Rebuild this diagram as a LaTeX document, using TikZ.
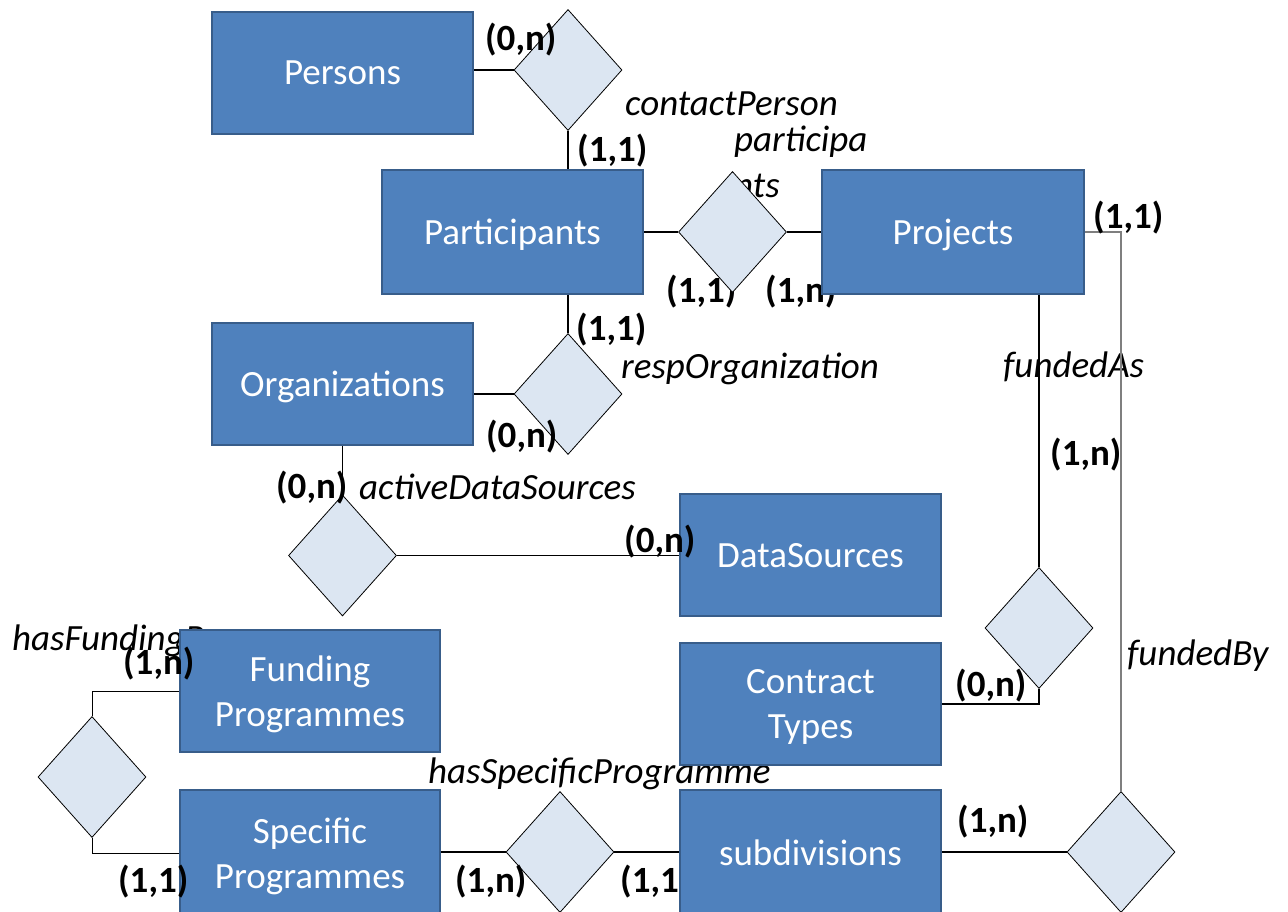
\documentclass[tikz,border=0pt]{standalone}
\usepackage{fontspec}
\setmainfont{Carlito}
\usetikzlibrary{shapes.geometric}
\definecolor{entfill}{HTML}{4F81BD}
\definecolor{entborder}{HTML}{385D8A}
\definecolor{relfill}{HTML}{DCE6F2}
\definecolor{greyline}{HTML}{7F7F7F}
\pgfdeclarelayer{bg}
\pgfsetlayers{bg,main}
\begin{document}
\begin{tikzpicture}[x=1pt,y=-1pt,
  ent/.style={draw=entborder, fill=entfill, line width=1.5pt, text=white,
    font=\fontsize{37}{45}\selectfont, align=center, inner sep=0pt, text depth=0pt},
  rel/.style={diamond, draw=black, fill=relfill, line width=0.8pt,
    minimum width=108pt, minimum height=121pt, inner sep=0pt},
  card/.style={font=\bfseries\fontsize{37}{44}\selectfont, inner sep=0pt, anchor=west},
  rname/.style={font=\itshape\fontsize{37}{46}\selectfont, inner sep=0pt, anchor=base west, align=left},
  conn/.style={line width=1.6pt, black},
  thinconn/.style={line width=0.9pt, black},
  greyconn/.style={line width=1.2pt, greyline},
]
\useasboundingbox (0,0) rectangle (1288,912);

% relationship names and hidden labels (behind)
\begin{pgfonlayer}{bg}
\node[rname] (lcp) at (625,116) {contactPerson};
\node[rname] (lpart) at (734,198) {participa\\nts};
\node[rname] (lresp) at (621,378) {respOrganization};
\node[rname] (lads) at (359,499) {activeDataSources};
\node[rname] (lfa) at (1003,377) {fundedAs};
\node[rname] (lfb) at (1127,665) {fundedBy};
\node[rname] (lhfp) at (12,650) {hasFundingProgramme};
\node[rname] (lhsp) at (428,783) {hasSpecificProgramme};
\node[card] (c5) at (666,292) {(1,1)};
\node[card] (c6) at (765,292) {(1,n)};
\node[card] (c17) at (620,882) {(1,1)};
\end{pgfonlayer}

% entities
\node[ent, minimum width=261pt, minimum height=122pt] (persons) at (342.5,73) {Persons};
\node[ent, minimum width=261pt, minimum height=124pt] (participants) at (512.5,232) {Participants};
\node[ent, minimum width=262pt, minimum height=124pt] (projects) at (953,232) {Projects};
\node[ent, minimum width=261pt, minimum height=122pt] (orgs) at (342.5,384) {Organizations};
\node[ent, minimum width=261pt, minimum height=122pt] (datasrc) at (810.5,555) {DataSources};
\node[ent, minimum width=260pt, minimum height=122pt] (fundprog) at (310,691) {Funding\\Programmes};
\node[ent, minimum width=261pt, minimum height=122pt] (contract) at (810.5,704) {Contract\\Types};
\node[ent, minimum width=260pt, minimum height=126pt] (specprog) at (310,853) {Specific\\Programmes};
\node[ent, minimum width=261pt, minimum height=126pt] (subdiv) at (810.5,853) {subdivisions};

% relationships
\node[rel] (cp) at (568,70) {};
\node[rel] (part) at (732.5,232) {};
\node[rel] (resp) at (568,394) {};
\node[rel] (ads) at (342.5,555.5) {};
\node[rel] (fa) at (1039,628) {};
\node[rel] (fb) at (1121,852) {};
\node[rel] (hfp) at (92,777) {};
\node[rel] (hsp) at (560,852) {};

% connectors
\draw[conn] (cp.west) -- (cp.west -| persons.east);
\draw[conn] (cp.south) -- (cp.south |- participants.north);
\draw[conn] (part.west) -- (part.west -| participants.east);
\draw[conn] (part.east) -- (part.east -| projects.west);
\draw[conn] (resp.north) -- (resp.north |- participants.south);
\draw[conn] (resp.west) -- (resp.west -| orgs.east);
\draw[conn] (ads.north) -- (ads.north |- orgs.south);
\draw[conn] (ads.east) -- (ads.east -| datasrc.west);
\draw[conn] (fa.north) -- (fa.north |- projects.south);
\draw[conn] (fa.south) |- (contract.east);
\draw[greyconn] (fb.north) |- (projects.east);
\draw[conn] (fb.west) -- (fb.west -| subdiv.east);
\draw[thinconn] (hfp.north) |- (fundprog.west);
\draw[thinconn] (hfp.south) |- (specprog.west);
\draw[conn] (hsp.west) -- (hsp.west -| specprog.east);
\draw[conn] (hsp.east) -- (hsp.east -| subdiv.west);

% cardinalities
\node[card] (c1) at (485,40) {(0,n)};
\node[card] (c2) at (577,151) {(1,1)};
\node[card] (c3) at (576,330) {(1,1)};
\node[card] (c4) at (486,437) {(0,n)};
\node[card] (c7) at (276,488) {(0,n)};
\node[card] (c8) at (624,542) {(0,n)};
\node[card] (c9) at (1093,218) {(1,1)};
\node[card] (c10) at (1050,455) {(1,n)};
\node[card] (c11) at (955,686) {(0,n)};
\node[card] (c12) at (957,822) {(1,n)};
\node[card] (c13) at (123,664) {(1,n)};
\node[card] (c14) at (118,882) {(1,1)};
\node[card] (c15) at (455,882) {(1,n)};
\end{tikzpicture}
\end{document}
